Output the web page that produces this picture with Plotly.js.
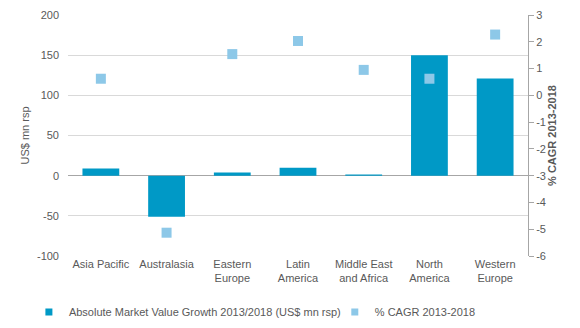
<!DOCTYPE html>
<html><head><meta charset="utf-8">
<script src="https://cdn.plot.ly/plotly-3.0.1.min.js"></script>
<style>html,body{margin:0;padding:0;background:#fff}#chart{width:580px;height:328px}</style>
</head><body><div id="chart"></div>
<script>
const categories = ["Asia Pacific","Australasia","Eastern<br>Europe","Latin<br>America","Middle East<br>and Africa","North<br>America","Western<br>Europe"];
const growthValues = [9, -51, 4, 10, 1.5, 150, 121];
const cagrValues = [0.62, -5.13, 1.54, 2.03, 0.95, 0.62, 2.27];
const growthName = "Absolute Market Value Growth 2013/2018 (US$ mn rsp)";
const cagrName = "% CAGR 2013-2018";
const leftTicks = [-100, -50, 0, 50, 100, 150, 200];
const leftTickText = ["-100", "-50", "0", "50", "100", "150", "200"];
const rightTicks = [-6, -5, -4, -3, -2, -1, 0, 1, 2, 3];
const rightTickText = ["-6", "-5", "-4", "-3", "-2", "-1", "0", "1", "2", "3"];

const barColor = "#0099C6";
const cagrColor = "#8DC8E8";
const font = {family: "Liberation Sans, Arial, sans-serif", size: 11, color: "#595959"};
const data = [
  {type: "bar", x: categories, y: growthValues, name: growthName, marker: {color: barColor}, yaxis: "y", showlegend: false},
  {type: "scatter", mode: "markers", x: categories, y: cagrValues, name: cagrName, yaxis: "y2", showlegend: false,
   marker: {symbol: "square", size: 10, color: cagrColor}},
  {type: "scatter", mode: "markers", x: [null], y: [null], name: growthName, yaxis: "y", legend: "legend",
   marker: {symbol: "square", size: 7, color: barColor}},
  {type: "scatter", mode: "markers", x: [null], y: [null], name: cagrName, yaxis: "y2", legend: "legend2",
   marker: {symbol: "square", size: 7, color: cagrColor}}
];
const legendBase = {orientation: "h", xanchor: "left", yref: "container", y: 0.093, yanchor: "top", font: font,
  itemwidth: 30, bgcolor: "rgba(0,0,0,0)"};
const layout = {
  width: 580, height: 328,
  margin: {l: 68, r: 52, t: 15, b: 72},
  paper_bgcolor: "#fff", plot_bgcolor: "#fff",
  font: font,
  bargap: 0.44,
  showlegend: true,
  legend: Object.assign({}, legendBase, {x: -0.085}),
  legend2: Object.assign({}, legendBase, {x: 0.58}),
  xaxis: {type: "category", tickfont: font, showgrid: false, showline: false, ticks: "", automargin: false},
  yaxis: {range: [-100, 200], tickvals: leftTicks, ticktext: leftTickText, tickfont: font, gridcolor: "#D9D9D9", showline: false,
    zeroline: true, zerolinecolor: "#A6A6A6", zerolinewidth: 1, ticks: "", automargin: false, ticklabelstandoff: 8,
    title: {text: "US$ mn rsp", font: font, standoff: 5}},
  yaxis2: {range: [-6, 3], tickvals: rightTicks, ticktext: rightTickText, overlaying: "y", side: "right", tickfont: font,
    showgrid: false, zeroline: false, showline: true, linecolor: "#A6A6A6", linewidth: 1,
    ticks: "outside", ticklen: 5, tickcolor: "#A6A6A6", automargin: false,
    title: {text: "<b>% CAGR 2013-2018</b>", font: font, standoff: 2}}
};
Plotly.newPlot("chart", data, layout, {displayModeBar: false, staticPlot: true});
</script></body></html>
